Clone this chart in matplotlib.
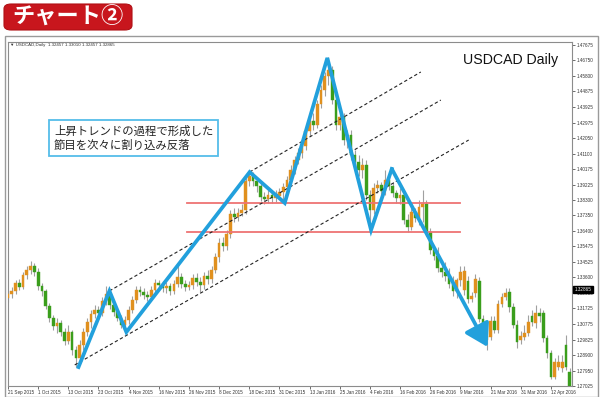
import numpy as np
import matplotlib
matplotlib.use('Agg')
import matplotlib.pyplot as plt
from matplotlib.patches import FancyBboxPatch, Rectangle
import matplotlib.transforms as mtransforms

# ---------------- data (USDCAD daily) ----------------
opens = [1.3235,1.3260,1.3278,1.3326,1.3302,1.3375,1.3405,1.3429,1.3393,1.3308,
 1.3278,1.3187,1.3114,1.3066,1.3084,1.3029,1.2975,1.3029,1.2920,1.2872,
 1.2951,1.3029,1.3090,1.3138,1.3163,1.3144,1.3217,1.3260,1.3193,1.3151,
 1.3114,1.3072,1.3102,1.3163,1.3223,1.3284,1.3272,1.3253,1.3241,1.3284,
 1.3326,1.3314,1.3296,1.3308,1.3278,1.3320,1.3362,1.3320,1.3302,1.3314,
 1.3356,1.3332,1.3314,1.3369,1.3350,1.3405,1.3484,1.3568,1.3550,1.3623,
 1.3744,1.3726,1.3750,1.3768,1.3944,1.3974,1.3944,1.3914,1.3847,1.3835,
 1.3859,1.3841,1.3853,1.3877,1.3908,1.3950,1.4011,1.4071,1.4113,1.4156,
 1.4247,1.4307,1.4283,1.4410,1.4495,1.4580,1.4616,1.4434,1.4283,1.4331,
 1.4192,1.4222,1.4101,1.4059,1.4011,1.4041,1.3859,1.3768,1.3902,1.3920,
 1.3883,1.3950,1.3914,1.3871,1.3841,1.3859,1.3708,1.3665,1.3756,1.3720,
 1.3786,1.3805,1.3635,1.3526,1.3490,1.3417,1.3393,1.3369,1.3320,1.3278,
 1.3344,1.3284,1.3338,1.3229,1.3266,1.3338,1.3108,1.2981,1.2999,1.3096,
 1.3042,1.3199,1.3241,1.3272,1.3181,1.3072,1.2981,1.2999,1.3023,1.3126,
 1.3084,1.3144,1.3144,1.2993,1.2902,1.2757,1.2817,1.2811,1.2951,1.2787]

closes = [1.3260,1.3278,1.3326,1.3302,1.3375,1.3405,1.3429,1.3393,1.3308,1.3278,
 1.3187,1.3114,1.3066,1.3084,1.3029,1.2975,1.3029,1.2920,1.2872,1.2951,
 1.3029,1.3090,1.3138,1.3163,1.3144,1.3217,1.3260,1.3193,1.3151,1.3114,
 1.3072,1.3102,1.3163,1.3223,1.3284,1.3272,1.3253,1.3241,1.3284,1.3326,
 1.3314,1.3296,1.3308,1.3278,1.3320,1.3362,1.3320,1.3302,1.3314,1.3356,
 1.3332,1.3314,1.3369,1.3350,1.3405,1.3484,1.3568,1.3550,1.3623,1.3744,
 1.3726,1.3750,1.3768,1.3944,1.3974,1.3944,1.3914,1.3847,1.3835,1.3859,
 1.3841,1.3853,1.3877,1.3908,1.3950,1.4011,1.4071,1.4113,1.4156,1.4247,
 1.4307,1.4283,1.4410,1.4495,1.4580,1.4616,1.4434,1.4283,1.4331,1.4192,
 1.4222,1.4101,1.4059,1.4011,1.4041,1.3859,1.3768,1.3902,1.3920,1.3883,
 1.3950,1.3914,1.3871,1.3841,1.3859,1.3708,1.3665,1.3756,1.3720,1.3786,
 1.3805,1.3635,1.3526,1.3490,1.3417,1.3393,1.3369,1.3320,1.3278,1.3344,
 1.3393,1.3399,1.3229,1.3247,1.3350,1.3108,1.3023,1.3005,1.3096,1.3042,
 1.3199,1.3241,1.3266,1.3181,1.3072,1.2969,1.3005,1.3023,1.3090,1.3090,
 1.3144,1.3126,1.2993,1.2902,1.2757,1.2848,1.2848,1.2848,1.2817,1.2702]

highs = [1.3284,1.3302,1.3344,1.3350,1.3393,1.3429,1.3459,1.3447,1.3417,1.3326,
 1.3290,1.3205,1.3132,1.3114,1.3102,1.3054,1.3072,1.3042,1.2945,1.2981,
 1.3054,1.3114,1.3163,1.3193,1.3187,1.3241,1.3308,1.3284,1.3211,1.3169,
 1.3132,1.3126,1.3187,1.3247,1.3308,1.3308,1.3296,1.3278,1.3308,1.3350,
 1.3344,1.3338,1.3332,1.3326,1.3344,1.3435,1.3387,1.3344,1.3338,1.3381,
 1.3387,1.3362,1.3393,1.3405,1.3429,1.3508,1.3599,1.3605,1.3647,1.3768,
 1.3780,1.3780,1.3805,1.3962,1.4011,1.3998,1.3962,1.3932,1.3877,1.3889,
 1.3883,1.3889,1.3902,1.3932,1.3974,1.4041,1.4095,1.4144,1.4192,1.4271,
 1.4338,1.4356,1.4434,1.4525,1.4604,1.4695,1.4640,1.4459,1.4362,1.4356,
 1.4253,1.4253,1.4132,1.4101,1.4083,1.4071,1.3889,1.3932,1.3950,1.3938,
 1.4011,1.3980,1.3938,1.3889,1.3902,1.3889,1.3744,1.3792,1.3780,1.3829,
 1.3889,1.3829,1.3659,1.3550,1.3544,1.3465,1.3453,1.3417,1.3369,1.3356,
 1.3429,1.3429,1.3369,1.3272,1.3381,1.3362,1.3132,1.3029,1.3126,1.3126,
 1.3223,1.3266,1.3296,1.3296,1.3205,1.3102,1.3035,1.3072,1.3132,1.3163,
 1.3193,1.3175,1.3163,1.3011,1.2920,1.2872,1.2890,1.2890,1.3011,1.2811]

lows = [1.3211,1.3235,1.3260,1.3284,1.3290,1.3350,1.3381,1.3369,1.3284,1.3247,
 1.3169,1.3090,1.3042,1.3023,1.3005,1.2951,1.2957,1.2890,1.2817,1.2854,
 1.2920,1.3005,1.3054,1.3114,1.3114,1.3126,1.3193,1.3169,1.3126,1.3096,
 1.3054,1.3035,1.3078,1.3144,1.3205,1.3247,1.3229,1.3217,1.3223,1.3266,
 1.3284,1.3272,1.3266,1.3253,1.3260,1.3302,1.3296,1.3278,1.3284,1.3290,
 1.3308,1.3272,1.3290,1.3320,1.3326,1.3387,1.3453,1.3520,1.3526,1.3599,
 1.3696,1.3702,1.3732,1.3744,1.3914,1.3914,1.3877,1.3823,1.3805,1.3811,
 1.3811,1.3817,1.3835,1.3823,1.3877,1.3926,1.3986,1.4047,1.4083,1.4132,
 1.4216,1.4253,1.4265,1.4386,1.4459,1.4525,1.4410,1.4253,1.4253,1.4162,
 1.4144,1.4071,1.4023,1.3974,1.3962,1.3829,1.3635,1.3744,1.3871,1.3853,
 1.3859,1.3889,1.3847,1.3811,1.3805,1.3683,1.3635,1.3647,1.3696,1.3677,
 1.3696,1.3611,1.3502,1.3465,1.3393,1.3362,1.3338,1.3296,1.3247,1.3235,
 1.3308,1.3253,1.3205,1.3211,1.3241,1.3090,1.2999,1.2920,1.2981,1.3023,
 1.3023,1.3181,1.3223,1.3151,1.3054,1.2932,1.2957,1.2981,1.3005,1.3066,
 1.3054,1.3090,1.2969,1.2872,1.2745,1.2745,1.2799,1.2787,1.2799,1.2696]

x_tick_labels = ['21 Sep 2015', '1 Oct 2015', '13 Oct 2015', '23 Oct 2015', '4 Nov 2015',
                 '16 Nov 2015', '26 Nov 2015', '8 Dec 2015', '18 Dec 2015', '31 Dec 2015',
                 '13 Jan 2016', '25 Jan 2016', '4 Feb 2016', '16 Feb 2016', '26 Feb 2016',
                 '9 Mar 2016', '21 Mar 2016', '31 Mar 2016', '12 Apr 2016']
y_tick_values = [1.47675, 1.46750, 1.45800, 1.44875, 1.43925, 1.42975, 1.42050, 1.41100,
                 1.40175, 1.39225, 1.38300, 1.37350, 1.36400, 1.35475, 1.34525, 1.33600,
                 1.32650, 1.31725, 1.30775, 1.29825, 1.28900, 1.27950, 1.27025]
current_price = 1.32865

# annotations (bar index, price)
zigzag_x = [18.7, 26.9, 31.4, 64.1, 73.4, 84.7, 96.3, 101.8]
zigzag_y = [1.2817, 1.3278, 1.3029, 1.3998, 1.3811, 1.4689, 1.3647, 1.4017]
arrow_end = (127.2, 1.2939)
channel_lines = [((64.1, 1.3998), (109.5, 1.4604)),
                 ((26.9, 1.3278), (114.8, 1.4434)),
                 ((17.7, 1.2830), (122.2, 1.4192))]
support_levels = [1.3811, 1.3635]
support_span = (47.5, 119.8)

# ---------------- figure ----------------
W, H = 600, 397
fig = plt.figure(figsize=(W / 100, H / 100), dpi=100)
fig.patch.set_facecolor('white')

# outer chart window frame
fig.patches.append(Rectangle((5 / W, 0), 593 / W, (H - 36) / H, transform=fig.transFigure,
                             fill=False, ec='#9a9a9a', lw=1.0))

ax = fig.add_axes([8 / W, 11 / H, 564 / W, 344 / H])
ax.set_facecolor('white')

n = len(closes)
xs = np.arange(n)
up_col = '#e0901e'
dn_col = '#3a9e1c'
wick_col = '#a0a0a0'

ax.vlines(xs, lows, highs, color=wick_col, lw=0.8, zorder=2)
o = np.array(opens); c = np.array(closes)
bottoms = np.minimum(o, c)
heights = np.maximum(np.abs(c - o), 0.0003)
cols = [up_col if cc >= oo else dn_col for oo, cc in zip(o, c)]
ax.bar(xs, heights, bottom=bottoms, width=0.72, color=cols, edgecolor=cols, lw=0.3, zorder=3)

# red support lines
for lvl in support_levels:
    ax.plot(support_span, [lvl, lvl], color='#ee7373', lw=1.3, zorder=4)

# dashed channel lines
for (p0, p1) in channel_lines:
    ax.plot([p0[0], p1[0]], [p0[1], p1[1]], color='#222222', lw=0.8,
            dashes=(3, 2.2), zorder=4)

# blue zigzag + arrow
blue = '#22a0dc'
ax.plot(zigzag_x, zigzag_y, color=blue, lw=2.7, solid_joinstyle='miter', zorder=6)
ax.annotate('', xy=arrow_end, xytext=(zigzag_x[-1], zigzag_y[-1]),
            arrowprops=dict(arrowstyle='-|>,head_length=0.9,head_width=0.55', color=blue,
                            lw=2.7, shrinkA=0, shrinkB=0, mutation_scale=15), zorder=6)

ax.set_xlim(0.6, 149.6)
ax.set_ylim(1.27024, 1.47856)

# axes styling
tick_font = 'Liberation Sans'
for s in ax.spines.values():
    s.set_color('#8c8c8c')
    s.set_linewidth(0.8)
ax.yaxis.tick_right()
ax.set_yticks(y_tick_values)
ax.set_yticklabels(['%.5f' % v for v in y_tick_values], family=tick_font)
ax.tick_params(axis='y', labelsize=3.3, colors='#333333', length=2, width=0.5, pad=1.5)
ax.set_xticks(np.arange(0, 8 * len(x_tick_labels), 8))
ax.set_xticklabels(x_tick_labels, family=tick_font)
ax.tick_params(axis='x', labelsize=3.3, colors='#333333', length=2, width=0.5, pad=1.2)
for lab in ax.get_xticklabels():
    lab.set_ha('left')

# current price tag
tr = mtransforms.blended_transform_factory(ax.transAxes, ax.transData)
ax.text(1.004, current_price, '%.5f' % current_price, transform=tr, fontsize=3.3,
        family=tick_font, color='white', va='center', ha='left',
        bbox=dict(boxstyle='square,pad=0.3', fc='black', ec='black'), zorder=10, clip_on=False)

# header text in chart
fig.text(10 / W, 1 - 45 / H, '\u25bc USDCAD,Daily  1.32457 1.33010 1.32457 1.32865',
         fontsize=3.2, family=tick_font, color='#333333', va='center', ha='left')

# symbol label
fig.text(463 / W, 1 - 60 / H, 'USDCAD Daily', fontsize=10.2, color='#111111',
         family='Liberation Sans', va='center', ha='left')

# explanation box
fig.text(54 / W, 1 - 138 / H, '上昇トレンドの過程で形成した\n節目を次々に割り込み反落',
         fontsize=8.2, family=['Noto Sans CJK JP', 'DejaVu Sans'], color='#222222',
         va='center', ha='left', linespacing=1.35,
         bbox=dict(boxstyle='square,pad=0.45', fc='white', ec='#55bde9', lw=1.3), zorder=20)

# title badge
fig.patches.append(FancyBboxPatch((4 / W, 1 - 30 / H), 128 / W, 26 / H,
                                  boxstyle='round,pad=0,rounding_size=0.012',
                                  transform=fig.transFigure, fc='#c8161d', ec='#b01015', lw=0.8))
fig.text(68 / W, 1 - 17.5 / H, 'チャート②', fontsize=16, fontweight='bold', color='white',
         family=['Noto Sans CJK JP', 'DejaVu Sans'], va='center', ha='center')

fig.savefig('out.png', dpi=100, facecolor='white')
